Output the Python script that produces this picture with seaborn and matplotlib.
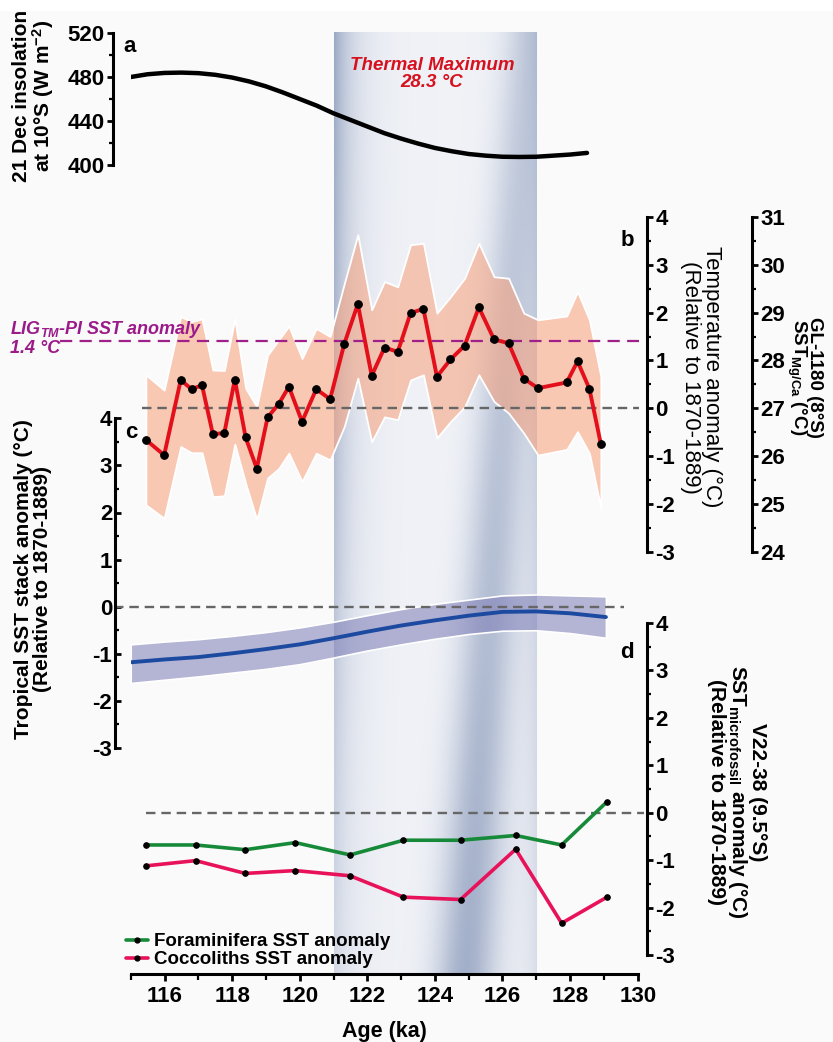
import numpy as np
import pandas as pd
import matplotlib
matplotlib.use('Agg')
import matplotlib.pyplot as plt
import seaborn as sns
from matplotlib.ticker import MultipleLocator
from matplotlib.lines import Line2D
from matplotlib.colors import to_rgba

# ---- data ----
# (a) 21 Dec insolation at 10S
insol_age = [115.0, 115.5, 116.0, 116.5, 117.0, 117.5, 118.0, 118.5, 119.0, 119.5, 120.0,
             120.5, 121.0, 121.5, 122.0, 122.5, 123.0, 123.5, 124.0, 124.5, 125.0, 125.5,
             126.0, 126.5, 127.0, 127.5, 128.0, 128.5]
insol_val = [480, 482.5, 483.7, 484, 483.5, 482, 479.5, 476, 471.5, 466, 460,
             454, 447, 441, 435, 429, 424, 419.5, 415.5, 412.5, 410, 408.5,
             407.5, 407.3, 407.5, 408.5, 409.5, 411]

# (b) GL-1180 Mg/Ca temperature anomaly with uncertainty envelope
b_age = [115.45, 115.99, 116.48, 116.80, 117.11, 117.43, 117.77, 118.08, 118.40, 118.73,
         119.05, 119.38, 119.68, 120.07, 120.49, 120.90, 121.32, 121.72, 122.13, 122.51,
         122.90, 123.28, 123.66, 124.06, 124.46, 124.88, 125.30, 125.75, 126.18, 126.63,
         127.05, 127.90, 128.22, 128.57, 128.91]
b_val = [-0.66, -0.98, 0.59, 0.40, 0.48, -0.54, -0.52, 0.60, -0.61, -1.26,
         -0.19, 0.09, 0.45, -0.28, 0.40, 0.19, 1.35, 2.18, 0.68, 1.27,
         1.18, 1.99, 2.08, 0.66, 1.02, 1.31, 2.11, 1.44, 1.36, 0.62,
         0.42, 0.54, 0.98, 0.41, -0.75]
b_hi = [0.70, 0.38, 1.92, 1.81, 1.87, 0.80, 0.79, 1.87, 0.42, 0.03,
        1.11, 1.43, 1.72, 1.04, 1.67, 1.50, 2.61, 3.63, 2.06, 2.65,
        2.54, 3.42, 3.45, 1.99, 2.33, 2.72, 3.45, 2.75, 2.72, 1.99,
        1.85, 1.93, 2.44, 1.85, 0.66]
b_lo = [-2.02, -2.30, -0.80, -0.93, -0.93, -1.85, -1.83, -0.75, -1.57, -2.33,
        -1.46, -1.26, -0.94, -1.53, -0.94, -1.08, -0.38, 0.63, -0.70, -0.18,
        -0.24, 0.59, 0.70, -0.62, -0.28, 0.03, 0.70, 0.14, -0.10, -0.52,
        -0.98, -0.86, -0.49, -0.94, -2.09]

# (c) tropical SST stack anomaly
c_age = [115.0, 116.0, 117.0, 118.0, 119.0, 120.0, 121.0, 122.0, 123.0, 124.0,
         125.0, 126.0, 127.0, 128.0, 129.06]
c_val = [-1.18, -1.12, -1.07, -0.99, -0.90, -0.80, -0.67, -0.53, -0.40, -0.29,
         -0.19, -0.11, -0.10, -0.14, -0.22]
c_hi = [-0.80, -0.74, -0.69, -0.62, -0.54, -0.44, -0.32, -0.18, -0.05, 0.06,
        0.15, 0.24, 0.26, 0.24, 0.22]
c_lo = [-1.62, -1.55, -1.48, -1.40, -1.32, -1.22, -1.08, -0.93, -0.80, -0.68,
        -0.58, -0.51, -0.50, -0.56, -0.66]

# (d) V22-38 microfossil SST anomalies
d_age = [115.46, 116.92, 118.39, 119.87, 121.49, 123.07, 124.76, 126.39, 127.75, 129.09]
foram = [-0.68, -0.68, -0.78, -0.63, -0.89, -0.58, -0.58, -0.48, -0.68, 0.23]
cocco = [-1.12, -1.01, -1.28, -1.22, -1.33, -1.78, -1.83, -0.77, -2.33, -1.78]

x_ticks = [116, 118, 120, 122, 124, 126, 128, 130]

df_b = pd.DataFrame({'age': b_age, 'val': b_val})
df_c = pd.DataFrame({'age': c_age, 'val': c_val})
df_d = pd.DataFrame({'age': d_age, 'foram': foram, 'cocco': cocco})

# ---- style ----
sns.set_theme(style='white')
plt.rcParams['font.family'] = ['Liberation Sans', 'DejaVu Sans']
plt.rcParams['font.weight'] = 'bold'
plt.rcParams['mathtext.fontset'] = 'custom'
plt.rcParams['mathtext.rm'] = 'Liberation Sans'
plt.rcParams['mathtext.it'] = 'Liberation Sans:italic'
plt.rcParams['mathtext.bf'] = 'Liberation Sans:bold'
plt.rcParams['axes.unicode_minus'] = False
for k in ['text.color', 'axes.labelcolor', 'xtick.color', 'ytick.color']:
    plt.rcParams[k] = 'black'

W, H = 833, 1042
fig = plt.figure(figsize=(W / 100, H / 100), dpi=100, facecolor='#fafafa')
fig.patches.append(plt.Rectangle((0, 1 - 11 / H), 1, 11 / H, transform=fig.transFigure,
                                 facecolor='white', edgecolor='none'))


def rect(x0, y0, x1, y1):
    return [x0 / W, 1 - y1 / H, (x1 - x0) / W, (y1 - y0) / H]


X0, X1 = 130.7, 637.7
PX = 0.72  # pixels -> points
TICK_FS = 16


def setup(ax, side, ylim, major, minor, outward, direction='out'):
    ax.set_facecolor('none')
    ax.set_xlim(115, 130)
    ax.set_ylim(*ylim)
    for s in ax.spines.values():
        s.set_visible(False)
    sp = ax.spines[side]
    sp.set_visible(True)
    sp.set_linewidth(2.2)
    sp.set_color('black')
    sp.set_position(('outward', outward * PX))
    ax.set_xticks([])
    ax.yaxis.set_ticks_position(side)
    ax.yaxis.set_major_locator(MultipleLocator(major))
    ax.yaxis.set_minor_locator(MultipleLocator(minor))
    ax.tick_params(axis='y', which='major', length=4, width=2, direction=direction,
                   labelsize=TICK_FS, pad=2)
    ax.tick_params(axis='y', which='minor', length=3, width=1.6, direction=direction)
    ax.set_xlabel('')
    ax.set_ylabel('')


# ---- background shading (thermal maximum window 121-127 ka) ----
ax_bg = fig.add_axes(rect(X0, 32, X1, 974), zorder=0)
ax_bg.set_xlim(115, 130)
ax_bg.set_ylim(0, 1)
ax_bg.axis('off')
u = np.linspace(121, 127, 400)[None, :]
t = np.linspace(0, 1, 300)[:, None]
dk = (0.08
      + 0.85 * np.exp(-(u - 121) / 0.55) * (1 - 0.65 * t)
      + (0.3 + 0.45 * t) * np.exp(-((u - (126.7 - 1.8 * t)) / (0.7 + 0.2 * t)) ** 2)
      + 0.4 * np.exp(-(127 - u) / 0.4) * (1 - 0.4 * t))
dk = np.clip(dk, 0, 1)
white = np.array([0.975, 0.978, 0.988])
dark = np.array([0.57, 0.63, 0.75])
img = (1 - dk)[..., None] * white + dk[..., None] * dark
ax_bg.imshow(img, extent=[121, 127, 0, 1], aspect='auto', origin='upper')

# ---- (a) insolation ----
ax_a = fig.add_axes(rect(X0, 33, X1, 165), zorder=2)
sns.lineplot(x=insol_age, y=insol_val, ax=ax_a, color='black', lw=3.2, errorbar=None)
setup(ax_a, 'left', (400, 520), 40, 20, 17.7)

# ---- (b) GL-1180 ----
ax_b = fig.add_axes(rect(X0, 217, X1, 551.7), zorder=3)
ax_b.fill_between(b_age, b_lo, b_hi, facecolor=to_rgba('#f9a07a', 0.55),
                  edgecolor='white', linewidth=1.3, zorder=1)
ax_b.plot([115.33, 130.05], [0, 0], ls=(0, (4, 2.5)), color='#666666', lw=1.7,
          clip_on=False, zorder=2)
ax_b.plot([112.9, 130.05], [1.4, 1.4], ls=(0, (5.5, 3.3)), color='#a0208a', lw=1.6,
          clip_on=False, zorder=2)
sns.lineplot(data=df_b, x='age', y='val', ax=ax_b, color='#e3101c', lw=2.8,
             marker='o', markersize=5.5, markerfacecolor='black',
             markeredgecolor='black', errorbar=None, zorder=3)
setup(ax_b, 'right', (-3, 4), 1, 0.5, 9.3)

ax_b2 = fig.add_axes(rect(X0, 217, X1, 551.7), zorder=3)
setup(ax_b2, 'right', (24, 31), 1, 0.5, 114.3)

# ---- (c) tropical stack ----
ax_c = fig.add_axes(rect(X0, 418.3, X1, 748), zorder=4)
ax_c.fill_between(c_age, c_lo, c_hi, facecolor=to_rgba('#7c7cb6', 0.55),
                  edgecolor='white', linewidth=1.2, zorder=1)
ax_c.plot([114.5, 129.6], [0, 0], ls=(0, (4, 2.5)), color='#666666', lw=1.7,
          clip_on=False, zorder=2)
sns.lineplot(data=df_c, x='age', y='val', ax=ax_c, color='#1c4aa0', lw=2.8,
             errorbar=None, zorder=3)
setup(ax_c, 'left', (-3, 4), 1, 0.5, 15.7, direction='in')

# ---- (d) V22-38 ----
ax_d = fig.add_axes(rect(X0, 623, X1, 955), zorder=5)
ax_d.plot([115.45, 130.2], [0, 0], ls=(0, (4, 2.5)), color='#666666', lw=1.7,
          clip_on=False, zorder=1)
sns.lineplot(data=df_d, x='age', y='foram', ax=ax_d, color='#178a3a', lw=2.6,
             marker='o', markersize=4, markerfacecolor='black', markeredgecolor='black',
             errorbar=None, zorder=3)
sns.lineplot(data=df_d, x='age', y='cocco', ax=ax_d, color='#e8125a', lw=2.6,
             marker='o', markersize=4, markerfacecolor='black', markeredgecolor='black',
             errorbar=None, zorder=3)
setup(ax_d, 'right', (-3, 4), 1, 0.5, 9.3)
bs = ax_d.spines['bottom']
bs.set_visible(True)
bs.set_linewidth(2.2)
bs.set_color('black')
bs.set_position(('outward', 19 * PX))
ax_d.xaxis.set_ticks_position('bottom')
ax_d.set_xticks(x_ticks)
ax_d.xaxis.set_minor_locator(MultipleLocator(1))
ax_d.tick_params(axis='x', which='major', length=5, width=2, labelsize=TICK_FS, pad=4)
ax_d.tick_params(axis='x', which='minor', length=4, width=1.6)

handles = [Line2D([], [], color='#178a3a', lw=2.6, marker='o', ms=3.5,
                  mfc='black', mec='black'),
           Line2D([], [], color='#e8125a', lw=2.6, marker='o', ms=3.5,
                  mfc='black', mec='black')]
fig.legend(handles, ['Foraminifera SST anomaly', 'Coccoliths SST anomaly'],
           loc='upper left', bbox_to_anchor=(126 / W, 1 - 933 / H), frameon=False,
           prop={'size': 13.5, 'weight': 'bold'}, handlelength=1.2,
           handletextpad=0.3, labelspacing=0.05, borderpad=0, borderaxespad=0)


# ---- texts ----
def ftext(x, y, s, **kw):
    return fig.text(x / W, 1 - y / H, s, **kw)


ftext(34, 96, '21 Dec insolation\nat 10°S (W m$^{-2}$)', rotation=90, ha='center',
      va='center', fontsize=15, linespacing=0.95)
ftext(33, 579, 'Tropical SST stack anomaly (°C)\n(Relative to 1870-1889)', rotation=90,
      ha='center', va='center', fontsize=15, linespacing=0.95)
ftext(701, 377, 'Temperature anomaly (°C)\n(Relative to 1870-1889)', rotation=270,
      ha='center', va='center', fontsize=16, fontweight='normal', linespacing=0.95)
ftext(804, 377, 'GL-1180 (8°S)\nSST$_{\\mathrm{Mg/Ca}}$ (°C)', rotation=270,
      ha='center', va='center', fontsize=13.5, linespacing=0.9)
ftext(737, 792, 'V22-38 (9.5°S)\nSST$_{\\mathrm{microfossil}}$ anomaly (°C)\n(Relative to 1870-1889)',
      rotation=270, ha='center', va='center', fontsize=15, linespacing=0.95)
ftext(384, 1032, 'Age (ka)', ha='center', va='center', fontsize=15.5)

for lx, ly, s in [(130, 47, 'a'), (627, 240, 'b'), (131, 432, 'c'), (627, 652, 'd')]:
    ftext(lx, ly, s, ha='center', va='center', fontsize=16)

ftext(432, 74, 'Thermal Maximum\n28.3 °C', ha='center', va='center', fontsize=13.5,
      color='#d7101e', style='italic', linespacing=1.05)
ftext(10, 338, 'LIG$_{TM}$-PI SST anomaly\n1.4 °C', ha='left', va='center', fontsize=13,
      color='#9b1a8a', style='italic', linespacing=1.0)

fig.savefig('out.png', dpi=100, facecolor=fig.get_facecolor())
